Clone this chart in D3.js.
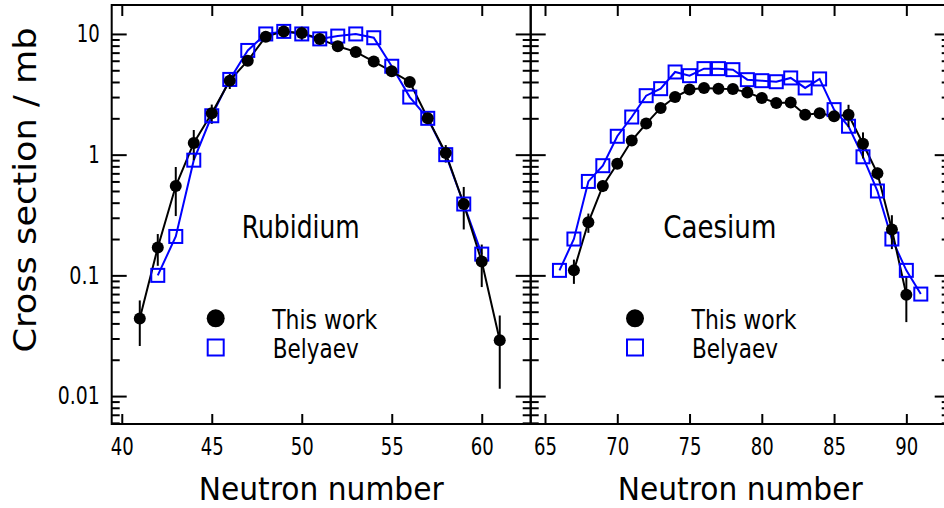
<!DOCTYPE html>
<html>
<head>
<meta charset="utf-8">
<script src="https://cdn.jsdelivr.net/npm/d3@7"></script>
<style>
  body { margin: 0; background: #fff; }
  text { font-family: "DejaVu Sans", sans-serif; fill: #000; }
</style>
</head>
<body>
<svg id="chart" width="944" height="508"></svg>
<script>
// Rubidium, this work
var rbN = [41, 42, 43, 44, 45, 46, 47, 48, 49, 50, 51, 52, 53, 54, 55, 56, 57, 58, 59, 60, 61];
var rbThis = [0.044, 0.17, 0.55, 1.25, 2.2, 4.1, 6.0, 9.5, 10.5, 10.2, 9.1, 7.9, 7.1, 5.9, 4.9, 4.0, 2.0, 1.03, 0.39, 0.13, 0.029];
var rbThisErr = [0.018, 0.05, 0.24, 0.35, 0.4, 0.6, 0.5, 0.8, 1.2, 1.3, 0.9, 0.4, 0.35, 0.3, 0.3, 0.25, 0.15, 0.17, 0.15, 0.05, 0.0175];
// Rubidium, Belyaev
var rbBelN = [42, 43, 44, 45, 46, 47, 48, 49, 50, 51, 52, 53, 54, 55, 56, 57, 58, 59, 60];
var rbBel = [0.10, 0.21, 0.90, 2.1, 4.2, 7.3, 10.0, 10.5, 10.0, 9.1, 9.6, 10.0, 9.3, 5.4, 3.0, 2.0, 1.0, 0.39, 0.15];

// Caesium, this work
var csN = [67, 68, 69, 70, 71, 72, 73, 74, 75, 76, 77, 78, 79, 80, 81, 82, 83, 84, 85, 86, 87, 88, 89, 90];
var csThis = [0.11, 0.275, 0.55, 0.84, 1.31, 1.81, 2.44, 3.0, 3.46, 3.57, 3.52, 3.5, 3.28, 2.95, 2.68, 2.71, 2.14, 2.2, 2.08, 2.14, 1.23, 0.70, 0.24, 0.069];
var csThisErr = [0.025, 0.05, 0.06, 0.08, 0.1, 0.12, 0.15, 0.18, 0.2, 0.2, 0.2, 0.2, 0.2, 0.18, 0.15, 0.15, 0.12, 0.12, 0.15, 0.45, 0.3, 0.08, 0.075, 0.028];
// Caesium, Belyaev
var csBelN = [66, 67, 68, 69, 70, 71, 72, 73, 74, 75, 76, 77, 78, 79, 80, 81, 82, 83, 84, 85, 86, 87, 88, 89, 90, 91];
var csBel = [0.11, 0.20, 0.60, 0.81, 1.42, 2.05, 3.08, 3.52, 4.84, 4.51, 5.16, 5.16, 5.06, 4.18, 4.1, 4.02, 4.32, 3.57, 4.24, 2.36, 1.72, 0.96, 0.50, 0.20, 0.11, 0.07];

var yMajor = [0.01, 0.1, 1, 10];
var yMajorLabels = ["0.01", "0.1", "1", "10"];
var legendLabels = ["This work", "Belyaev"];

(function() {
var svg = d3.select("#chart");
var yTop = 5, yBottom = 424, pw = 419;

var y = d3.scaleLog().domain([0.00587, 17.37]).range([yBottom, yTop]);

var yMinor = [];
[0.001, 0.01, 0.1, 1, 10].forEach(function(d) {
  for (var k = 2; k <= 9; k++) {
    var v = d * k;
    if (v > y.domain()[0] && v < y.domain()[1]) yMinor.push(v);
  }
});

// narrow tick labels, like the plotting package's font
function squeeze(sel) {
  sel.selectAll(".tick text").each(function() {
    var s = this.textContent;
    if (!s) return;
    var w = 0;
    for (var i = 0; i < s.length; i++) w += s[i] === "." ? 7.5 : 11.5;
    d3.select(this).attr("textLength", w).attr("lengthAdjust", "spacingAndGlyphs");
  });
}

var panels = [
  { name: "Rubidium", left: 111.7, domain: [39.44, 62.72], ticks: [40, 45, 50, 55, 60],
    n: rbN, v: rbThis, e: rbThisErr, bn: rbBelN, bv: rbBel, labels: true,
    title: { x: 241.7, len: 118 }, legX: 215.7 },
  { name: "Caesium", left: 530.7, domain: [64.01, 93.0], ticks: [65, 70, 75, 80, 85, 90],
    n: csN, v: csThis, e: csThisErr, bn: csBelN, bv: csBel, labels: false,
    title: { x: 663.3, len: 113 }, legX: 635 }
];

panels.forEach(function(p) {
  var x = d3.scaleLinear().domain(p.domain).range([p.left, p.left + pw]);
  var g = svg.append("g");

  // axes
  var xb = g.append("g").attr("transform", "translate(0," + yBottom + ")")
    .call(d3.axisBottom(x).tickValues(p.ticks).tickSize(-10).tickPadding(14));
  var xt = g.append("g").attr("transform", "translate(0," + yTop + ")")
    .call(d3.axisTop(x).tickValues(p.ticks).tickSize(-11).tickFormat(""));
  var yl = g.append("g").attr("transform", "translate(" + p.left + ",0)")
    .call(d3.axisLeft(y).tickValues(yMajor).tickSize(-15).tickPadding(12)
      .tickFormat(function(d, i) { return p.labels ? yMajorLabels[i] : ""; }));
  var ylm = g.append("g").attr("transform", "translate(" + p.left + ",0)")
    .call(d3.axisLeft(y).tickValues(yMinor).tickSize(-8).tickFormat(""));
  var yr = g.append("g").attr("transform", "translate(" + (p.left + pw) + ",0)")
    .call(d3.axisRight(y).tickValues(yMajor).tickSize(-15).tickFormat(""));
  var yrm = g.append("g").attr("transform", "translate(" + (p.left + pw) + ",0)")
    .call(d3.axisRight(y).tickValues(yMinor).tickSize(-8).tickFormat(""));

  [xb, xt, yl, ylm, yr, yrm].forEach(function(a) {
    a.attr("font-family", null).attr("font-size", 24);
    a.select(".domain").remove();
    a.selectAll(".tick line").attr("stroke", "#000").attr("stroke-width", 2);
    squeeze(a);
  });

  g.append("rect")
    .attr("x", p.left).attr("y", yTop)
    .attr("width", pw).attr("height", yBottom - yTop)
    .attr("fill", "none").attr("stroke", "#000").attr("stroke-width", 2);

  var line = d3.line()
    .x(function(d) { return x(d[0]); })
    .y(function(d) { return y(d[1]); });

  // Belyaev
  var bel = p.bn.map(function(n, i) { return [n, p.bv[i]]; });
  g.append("path").datum(bel).attr("d", line)
    .attr("fill", "none").attr("stroke", "#0000ff").attr("stroke-width", 2);

  // this work
  var tw = p.n.map(function(n, i) { return [n, p.v[i], p.e[i]]; });
  g.append("path").datum(tw).attr("d", line)
    .attr("fill", "none").attr("stroke", "#000").attr("stroke-width", 2);
  g.selectAll(".err").data(tw).enter().append("line")
    .attr("x1", function(d) { return x(d[0]); })
    .attr("x2", function(d) { return x(d[0]); })
    .attr("y1", function(d) { return y(Math.max(d[1] - d[2], y.domain()[0])); })
    .attr("y2", function(d) { return y(d[1] + d[2]); })
    .attr("stroke", "#000").attr("stroke-width", 2);

  g.selectAll(".sq").data(bel).enter().append("rect")
    .attr("x", function(d) { return x(d[0]) - 6.5; })
    .attr("y", function(d) { return y(d[1]) - 6.5; })
    .attr("width", 13).attr("height", 13)
    .attr("fill", "none").attr("stroke", "#0000ff").attr("stroke-width", 2);

  g.selectAll(".dot").data(tw).enter().append("circle")
    .attr("cx", function(d) { return x(d[0]); })
    .attr("cy", function(d) { return y(d[1]); })
    .attr("r", 6).attr("fill", "#000");

  // panel name
  g.append("text").attr("x", p.title.x).attr("y", 238)
    .attr("font-size", 32).attr("textLength", p.title.len)
    .attr("lengthAdjust", "spacingAndGlyphs").text(p.name);

  // legend
  g.append("circle").attr("cx", p.legX).attr("cy", 318.3).attr("r", 9).attr("fill", "#000");
  g.append("rect").attr("x", p.legX - 8).attr("y", 339.5).attr("width", 16).attr("height", 16)
    .attr("fill", "none").attr("stroke", "#0000ff").attr("stroke-width", 2);
  g.append("text").attr("x", p.legX + 56.5).attr("y", 329)
    .attr("font-size", 26).attr("textLength", 105).attr("lengthAdjust", "spacingAndGlyphs")
    .text(legendLabels[0]);
  g.append("text").attr("x", p.legX + 57).attr("y", 358)
    .attr("font-size", 26).attr("textLength", 86).attr("lengthAdjust", "spacingAndGlyphs")
    .text(legendLabels[1]);

  // x title
  g.append("text").attr("x", p.left + pw / 2).attr("y", 500)
    .attr("text-anchor", "middle").attr("font-size", 32)
    .attr("textLength", 245).attr("lengthAdjust", "spacingAndGlyphs")
    .text("Neutron number");
});

svg.append("text")
  .attr("transform", "translate(36,190) rotate(-90)")
  .attr("text-anchor", "middle").attr("font-size", 32)
  .attr("textLength", 325).attr("lengthAdjust", "spacingAndGlyphs")
  .text("Cross section / mb");
})();
</script>
</body>
</html>
